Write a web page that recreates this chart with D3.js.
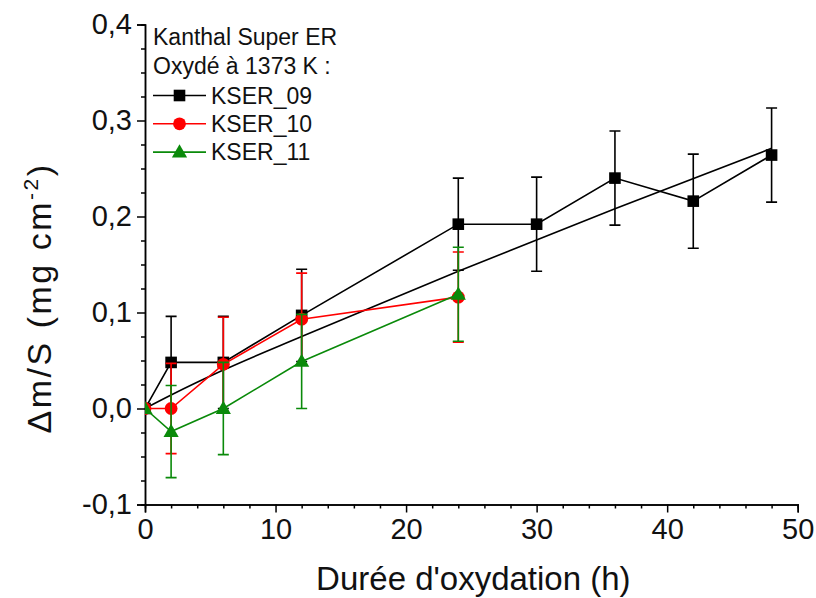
<!DOCTYPE html>
<html>
<head>
<meta charset="utf-8">
<script src="https://cdn.jsdelivr.net/npm/d3@7"></script>
<style>
  body { margin: 0; background: #fff; }
  svg { display: block; font-family: "Liberation Sans", Arial, sans-serif; }
</style>
</head>
<body>
<svg id="chart" width="816" height="598"></svg>
<script>
// ---- data ----
const hours09 = [0, 2, 6, 12, 24, 30, 36, 42, 48];
const kser09  = [0, 0.048, 0.048, 0.097, 0.192, 0.192, 0.240, 0.216, 0.264];
const err09   = [0, 0.048, 0.048, 0.048, 0.048, 0.049, 0.049, 0.049, 0.049];

const hours10 = [0, 2, 6, 12, 24];
const kser10  = [0, 0.0, 0.046, 0.093, 0.116];
const err10   = [0, 0.047, 0.049, 0.048, 0.047];

const hours11 = [0, 2, 6, 12, 24];
const kser11  = [0, -0.024, 0.0, 0.049, 0.119];
const err11   = [0, 0.048, 0.048, 0.049, 0.049];

// fitted trend line
const fitHours  = [0, 2, 6, 12, 24, 36, 48];
const fitValues = [0, 0.014, 0.040, 0.075, 0.143, 0.208, 0.271];

const xTicks = [0, 10, 20, 30, 40, 50];
const yTicks = [-0.1, 0.0, 0.1, 0.2, 0.3, 0.4];
const legendTitle = ["Kanthal Super ER", "Oxydé à 1373 K :"];
const seriesNames = ["KSER_09", "KSER_10", "KSER_11"];

// ---- layout ----
const svg = d3.select("#chart");
const mLeft = 145, mRight = 797.7, mTop = 24.5, mBottom = 504.5;
const x = d3.scaleLinear().domain([0, 50]).range([mLeft, mRight]);
const y = d3.scaleLinear().domain([-0.1, 0.4]).range([mBottom, mTop]);

const fmt = v => d3.format(".1f")(v).replace(".", ",").replace("−", "-");

svg.append("defs").append("clipPath").attr("id", "plotclip")
  .append("rect").attr("x", mLeft).attr("y", mTop - 20).attr("width", mRight - mLeft + 20).attr("height", mBottom - mTop + 20);

// axes
const xAxis = d3.axisBottom(x).tickValues(xTicks).tickSize(8).tickPadding(6).tickFormat(d3.format("d"));
const xMinor = d3.axisBottom(x).tickValues(d3.range(0, 51, 2).filter(v => v % 10 !== 0)).tickSize(4).tickFormat("");
const yAxis = d3.axisLeft(y).tickValues(yTicks).tickSize(8).tickPadding(5).tickFormat(fmt);
const yMinor = d3.axisLeft(y).tickValues(d3.range(0, 21).map(i => -0.1 + i * 0.025).filter((v, i) => i % 4 !== 0)).tickSize(4).tickFormat("");

function styleAxis(g) {
  g.select(".domain").attr("stroke", "#000").attr("stroke-width", 1.5);
  g.selectAll(".tick line").attr("stroke", "#000").attr("stroke-width", 1.5);
  g.selectAll(".tick text").attr("fill", "#111").attr("font-size", 29)
    .attr("font-family", "'Liberation Sans', Arial, sans-serif");
}
svg.append("g").attr("transform", `translate(0,${mBottom})`).call(xMinor).call(styleAxis);
svg.append("g").attr("transform", `translate(0,${mBottom})`).call(xAxis).call(styleAxis);
svg.append("g").attr("transform", `translate(${mLeft},0)`).call(yMinor).call(styleAxis);
svg.append("g").attr("transform", `translate(${mLeft},0)`).call(yAxis).call(styleAxis);

// axis titles
svg.append("text").attr("x", (mLeft + mRight) / 2 + 2).attr("y", 590)
  .attr("text-anchor", "middle").attr("font-size", 33).attr("fill", "#111")
  .text("Durée d'oxydation (h)");
const yl = svg.append("text").attr("transform", `translate(51,${298}) rotate(-90)`)
  .attr("text-anchor", "middle").attr("font-size", 34).attr("letter-spacing", 2.5).attr("fill", "#111");
yl.append("tspan").text("Δm/S (mg cm");
yl.append("tspan").attr("font-size", 21).attr("dy", -13).text("-2");
yl.append("tspan").attr("dy", 13).text(")");

// fit line
svg.append("path")
  .datum(fitHours.map((h, i) => [h, fitValues[i]]))
  .attr("fill", "none").attr("stroke", "#000").attr("stroke-width", 1.6)
  .attr("d", d3.line().x(d => x(d[0])).y(d => y(d[1])).curve(d3.curveMonotoneX));

const series = [
  { name: seriesNames[0], h: hours09, v: kser09, e: err09, color: "#000000", shape: "square" },
  { name: seriesNames[1], h: hours10, v: kser10, e: err10, color: "#ff0000", shape: "circle" },
  { name: seriesNames[2], h: hours11, v: kser11, e: err11, color: "#0a8a0a", shape: "triangle" }
];

function marker(g, shape, color, cx, cy) {
  if (shape === "square") {
    g.append("rect").attr("x", cx - 5.8).attr("y", cy - 5.8).attr("width", 11.6).attr("height", 11.6).attr("fill", color);
  } else if (shape === "circle") {
    g.append("circle").attr("cx", cx).attr("cy", cy).attr("r", 6.4).attr("fill", color);
  } else {
    g.append("path").attr("d", d3.symbol(d3.symbolTriangle, 100)()).attr("transform", `translate(${cx},${cy + 1})`).attr("fill", color);
  }
}

const plot = svg.append("g").attr("clip-path", "url(#plotclip)");
series.forEach(s => {
  const g = plot.append("g");
  const pts = s.h.map((h, i) => ({ h, v: s.v[i], e: s.e[i] }));
  pts.filter(p => p.e > 0).forEach(p => {
    g.append("line").attr("x1", x(p.h)).attr("x2", x(p.h)).attr("y1", y(p.v - p.e)).attr("y2", y(p.v + p.e))
      .attr("stroke", s.color).attr("stroke-width", 1.6);
    [p.v - p.e, p.v + p.e].forEach(ev => {
      g.append("line").attr("x1", x(p.h) - 5.5).attr("x2", x(p.h) + 5.5).attr("y1", y(ev)).attr("y2", y(ev))
        .attr("stroke", s.color).attr("stroke-width", 1.6);
    });
  });
  g.append("path").datum(pts).attr("fill", "none").attr("stroke", s.color).attr("stroke-width", 1.6)
    .attr("d", d3.line().x(d => x(d.h)).y(d => y(d.v)));
  pts.forEach(p => marker(g, s.shape, s.color, x(p.h), y(p.v)));
});

// legend
const lg = svg.append("g");
legendTitle.forEach((t, i) => {
  lg.append("text").attr("x", 153).attr("y", 45 + i * 28.5).attr("font-size", 23).attr("fill", "#111").text(t);
});
series.forEach((s, i) => {
  const cy = 95.5 + i * 28.3;
  lg.append("line").attr("x1", 153).attr("x2", 206).attr("y1", cy).attr("y2", cy).attr("stroke", s.color).attr("stroke-width", 1.6);
  marker(lg, s.shape, s.color, 179.5, cy);
  lg.append("text").attr("x", 211).attr("y", cy + 8).attr("font-size", 23).attr("fill", "#111").text(s.name);
});
</script>
</body>
</html>
